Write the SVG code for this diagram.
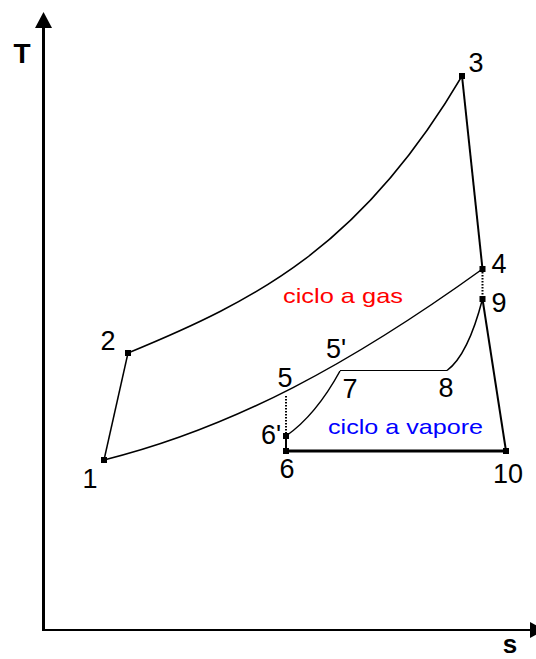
<svg xmlns="http://www.w3.org/2000/svg" width="536" height="659" viewBox="0 0 536 659">
<style>
.ln{fill:none;stroke:#000;stroke-width:1.5}
.thk{fill:none;stroke:#000;stroke-width:2}
.dot{fill:none;stroke:#000;stroke-width:2;stroke-dasharray:1.5 1.5}
.pt{fill:#000}
.lbl{font-family:"Liberation Sans",Arial,sans-serif;font-size:27px;fill:#000;text-anchor:middle}
.ax{font-family:"Liberation Sans",Arial,sans-serif;font-size:28px;font-weight:bold;fill:#000;text-anchor:middle}
.cyc{font-family:"Liberation Sans",Arial,sans-serif;font-size:21px}
</style>
<rect width="536" height="659" fill="#fff"/>
<g id="axes">
<line x1="43.5" y1="26" x2="43.5" y2="631" stroke="#000" stroke-width="3"/>
<polygon points="43.5,12 52,28 35,28" fill="#000"/>
<line x1="42" y1="630" x2="532" y2="630" stroke="#000" stroke-width="2"/>
<polygon points="530,622 545,630 530,638" fill="#000"/>
<text class="ax" x="22" y="63">T</text>
<text class="ax" x="510" y="653" style="font-size:26px">s</text>
</g>
<g id="connectors">
<line class="ln" x1="104" y1="460" x2="128" y2="353"/>
<path class="ln" d="M128,353 C257,300 362,246 462,76"/>
<line class="thk" x1="462" y1="76" x2="482.5" y2="269"/>
<path class="ln" d="M482.5,269 C352,363 234,427.5 104,460"/>
<line class="dot" x1="482.5" y1="272" x2="482.5" y2="297"/>
<line class="thk" x1="482.5" y1="299" x2="506" y2="451"/>
<line x1="286" y1="451" x2="506" y2="451" stroke="#000" stroke-width="3"/>
<line class="dot" x1="286" y1="396" x2="286" y2="434"/>
<line x1="286" y1="436" x2="286" y2="451" stroke="#000" stroke-width="2"/>
<path class="ln" d="M286,436 Q316,415 340,371"/>
<line x1="340" y1="370.5" x2="447" y2="370.5" stroke="#000" stroke-width="1.2"/>
<path class="ln" d="M447,370.5 Q468,355 482.5,299"/>
</g>
<g id="n1"><rect class="pt" x="101" y="457" width="6" height="6"/><text class="lbl" x="90" y="488">1</text></g>
<g id="n2"><rect class="pt" x="125" y="350" width="6" height="6"/><text class="lbl" x="108" y="350">2</text></g>
<g id="n3"><rect class="pt" x="459" y="73" width="6" height="6"/><text class="lbl" x="476" y="72">3</text></g>
<g id="n4"><rect class="pt" x="479.5" y="266" width="6" height="6"/><text class="lbl" x="499" y="273">4</text></g>
<g id="n9"><rect class="pt" x="479.5" y="296" width="6" height="6"/><text class="lbl" x="499" y="312">9</text></g>
<g id="n5p"><text class="lbl" x="336" y="358">5'</text></g>
<g id="n5"><text class="lbl" x="285" y="387">5</text></g>
<g id="n7"><text class="lbl" x="350" y="398">7</text></g>
<g id="n8"><text class="lbl" x="446" y="397">8</text></g>
<g id="n6p"><rect class="pt" x="283" y="433" width="6" height="6"/><text class="lbl" x="271" y="444">6'</text></g>
<g id="n6"><rect class="pt" x="283" y="448" width="6" height="6"/><text class="lbl" x="287" y="478">6</text></g>
<g id="n10"><rect class="pt" x="503" y="448" width="6" height="6"/><text class="lbl" x="508" y="483">10</text></g>
<g id="gas"><text class="cyc" x="283" y="303" fill="#ff0000" textLength="120" lengthAdjust="spacingAndGlyphs">ciclo a gas</text></g>
<g id="vapore"><text class="cyc" x="328" y="434" fill="#0000ff" textLength="155" lengthAdjust="spacingAndGlyphs">ciclo a vapore</text></g>
</svg>
